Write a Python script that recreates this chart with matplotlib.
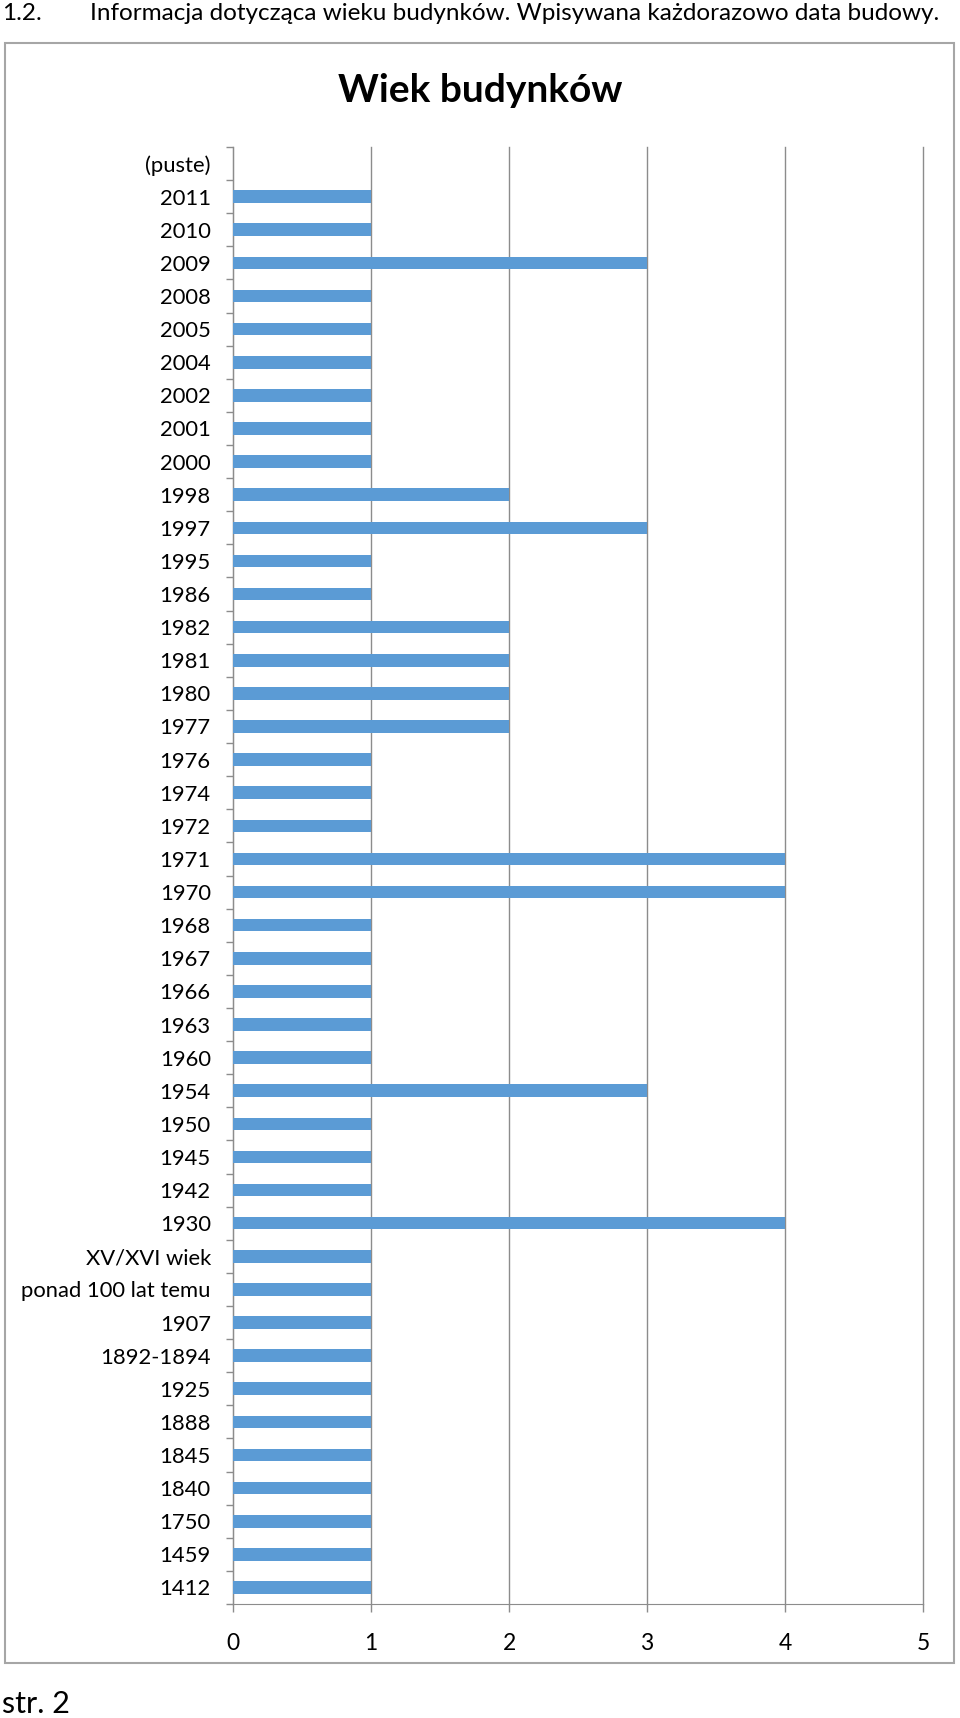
import matplotlib
matplotlib.use("Agg")
import matplotlib.pyplot as plt
from matplotlib.patches import Rectangle
from matplotlib.ticker import FixedLocator

plt.rcParams["font.family"] = ["Lato", "DejaVu Sans"]

# kategorie od góry do dołu, tak jak na wykresie
categories = [
    "(puste)", "2011", "2010", "2009", "2008", "2005", "2004", "2002", "2001", "2000",
    "1998", "1997", "1995", "1986", "1982", "1981", "1980", "1977", "1976", "1974",
    "1972", "1971", "1970", "1968", "1967", "1966", "1963", "1960", "1954", "1950",
    "1945", "1942", "1930", "XV/XVI wiek", "ponad 100 lat temu", "1907", "1892-1894",
    "1925", "1888", "1845", "1840", "1750", "1459", "1412",
]
counts = [
    0, 1, 1, 3, 1, 1, 1, 1, 1, 1,
    2, 3, 1, 1, 2, 2, 2, 2, 1, 1,
    1, 4, 4, 1, 1, 1, 1, 1, 3, 1,
    1, 1, 4, 1, 1, 1, 1,
    1, 1, 1, 1, 1, 1, 1,
]
x_ticks = [0, 1, 2, 3, 4, 5]

BAR = "#5B9BD5"
GRID = "#8C8C8C"

W, H = 960, 1718
fig = plt.figure(figsize=(W / 100, H / 100), dpi=100)

# nagłówek dokumentu i stopka
fig.text(2 / W, 1 - 14 / H, "1.2.", fontsize=17.5, va="center", ha="left")
fig.text(90 / W, 1 - 14 / H, "Informacja dotycząca wieku budynków. Wpisywana każdorazowo data budowy.",
         fontsize=17.5, va="center", ha="left")
fig.text(2 / W, 1 - 1704 / H, "str. 2", fontsize=22, va="center", ha="left")

# ramka wykresu
fig.patches.append(Rectangle((5 / W, 1 - 1663 / H), 949 / W, 1620 / H, transform=fig.transFigure,
                             fill=False, edgecolor="#A6A6A6", linewidth=1.5))
fig.text(480 / W, 1 - 91 / H, "Wiek budynków", fontsize=28, fontweight="bold", ha="center", va="center")

left, right, top, bottom = 233, 923, 147, 1604
ax = fig.add_axes([left / W, 1 - bottom / H, (right - left) / W, (bottom - top) / H])

n = len(categories)
ypos = list(range(n))
ax.barh(ypos, counts, height=0.38, color=BAR, zorder=3)
ax.set_ylim(n - 0.5, -0.5)
ax.set_xlim(0, 5)
ax.set_yticks(ypos)
ax.set_yticklabels(categories, fontsize=15.8)
ax.yaxis.set_minor_locator(FixedLocator([i - 0.5 for i in range(n + 1)]))
ax.tick_params(axis="y", which="major", length=0, pad=16)
ax.tick_params(axis="y", which="minor", length=5, color=GRID, width=1)
ax.set_xticks(x_ticks)
ax.set_xticklabels([str(v) for v in x_ticks], fontsize=16.5)
ax.tick_params(axis="x", length=6, color=GRID, width=1, pad=15)
ax.grid(axis="x", color=GRID, linewidth=1, zorder=0)
for gl in ax.get_xgridlines():
    gl.set_clip_on(False)
for side in ["top", "right"]:
    ax.spines[side].set_visible(False)
ax.spines["left"].set_color(GRID)
ax.spines["bottom"].set_color(GRID)

fig.savefig("out.png", dpi=100)
